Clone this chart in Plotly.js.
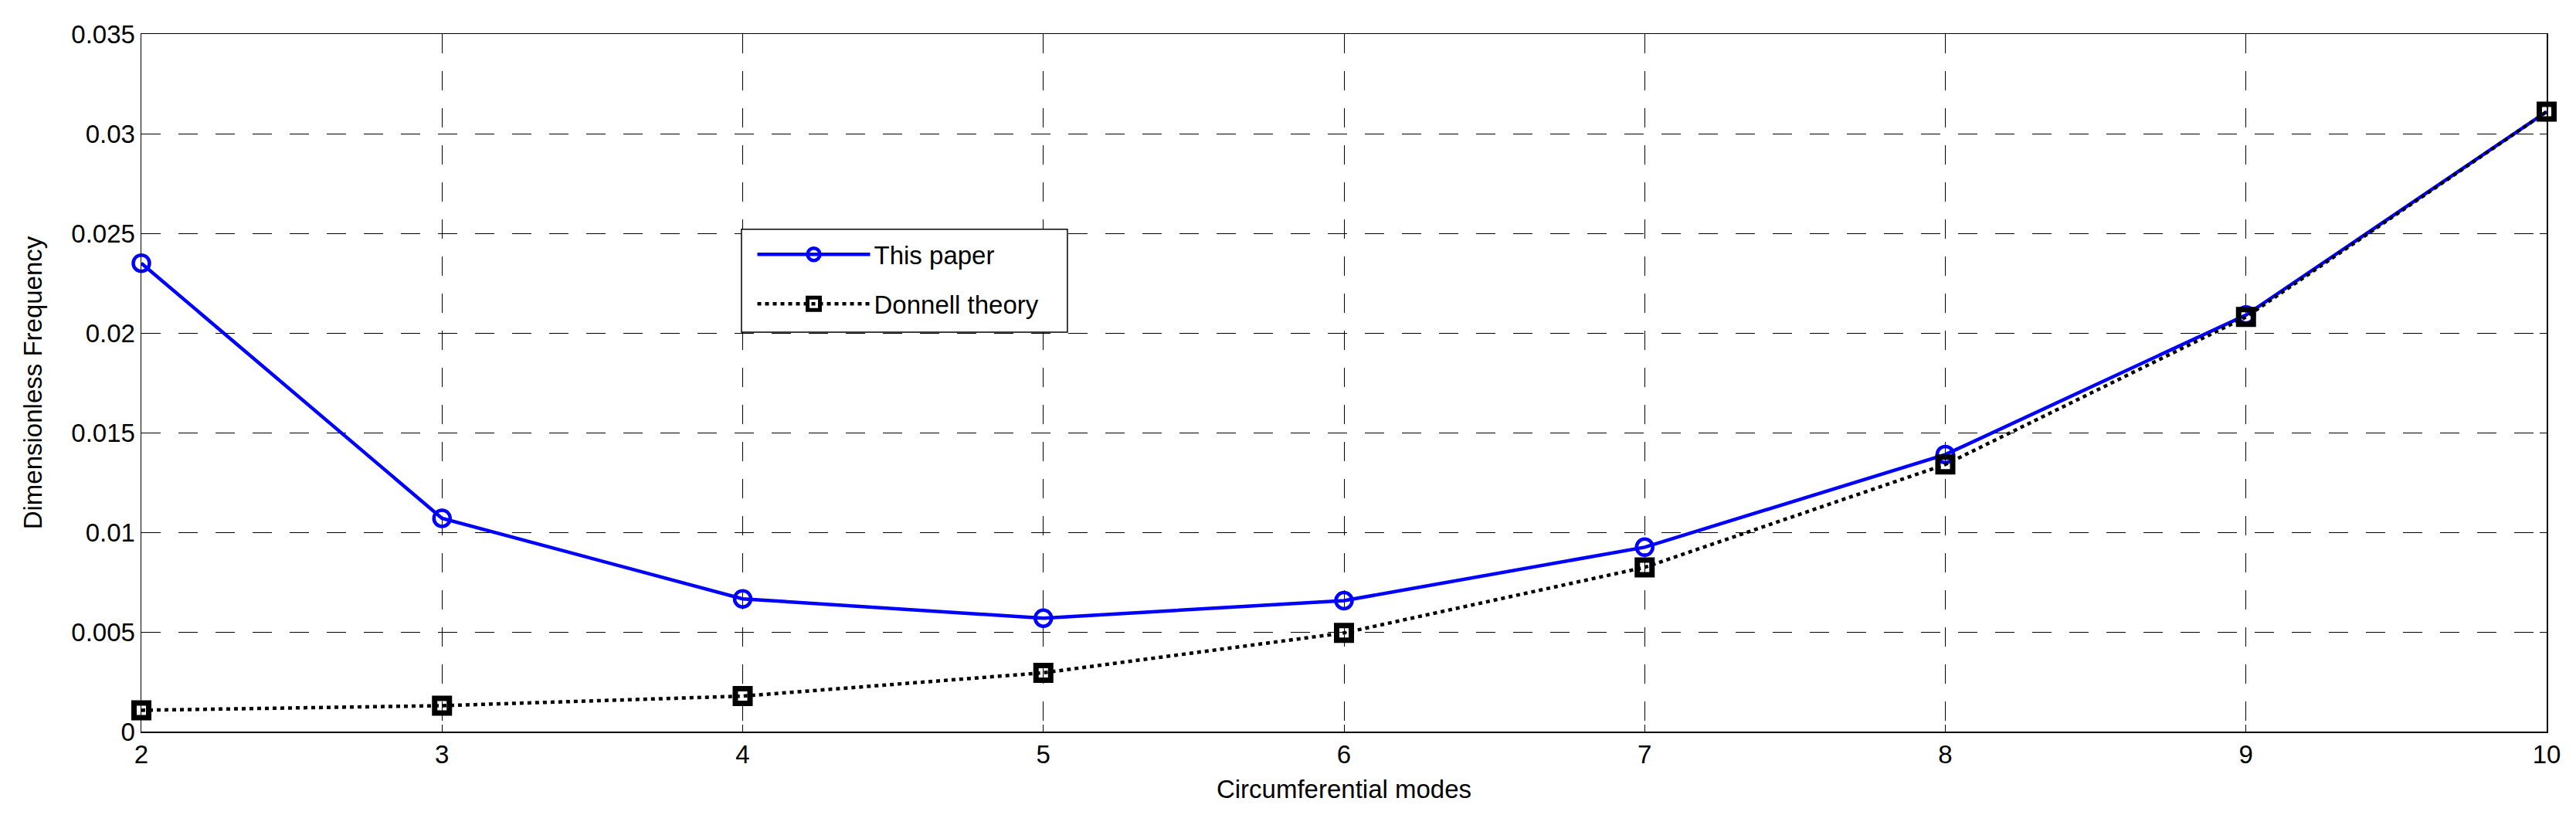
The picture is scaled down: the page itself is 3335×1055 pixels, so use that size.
<!DOCTYPE html>
<html>
<head>
<meta charset="utf-8">
<script src="https://cdn.plot.ly/plotly-3.0.1.min.js"></script>
<style>html,body{margin:0;padding:0;background:#fff;}#chart{width:3335px;height:1055px;}</style>
</head>
<body>
<div id="chart"></div>
<script>
// Data
const modes = [2, 3, 4, 5, 6, 7, 8, 9, 10];
const thisPaper = [0.0235, 0.0107, 0.00666, 0.00569, 0.00657, 0.00925, 0.0139, 0.0209, 0.0311];
const donnell = [0.00107, 0.0013, 0.00178, 0.00295, 0.00495, 0.00824, 0.0134, 0.0208, 0.0311];
const yTickVals = [0, 0.005, 0.01, 0.015, 0.02, 0.025, 0.03, 0.035];
const yTickText = ['0', '0.005', '0.01', '0.015', '0.02', '0.025', '0.03', '0.035'];
const xTickVals = [2, 3, 4, 5, 6, 7, 8, 9, 10];
const seriesNames = ['This paper', 'Donnell theory'];

const FONT = 'Arial, "Liberation Sans", sans-serif';

const traces = [
  {
    x: modes, y: thisPaper, name: seriesNames[0], legendgroup: 'a',
    type: 'scatter', mode: 'lines+markers', cliponaxis: false,
    line: {color: '#0000ff', width: 4.5},
    marker: {symbol: 'circle-open', size: 21, color: '#0000ff', line: {color: '#0000ff', width: 4.5}}
  },
  {
    x: modes, y: donnell, name: seriesNames[1], legendgroup: 'b',
    type: 'scatter', mode: 'lines+markers', cliponaxis: false,
    line: {color: '#000000', width: 4.5, dash: '5px,5px'},
    marker: {symbol: 'square-open', size: 19, color: '#000000', line: {color: '#000000', width: 7}}
  }
];

const axisCommon = {
  showline: true, linecolor: '#000', linewidth: 1.5, mirror: 'ticks',
  ticks: 'inside', ticklen: 9, tickcolor: '#000', tickwidth: 1,
  showgrid: true, gridcolor: '#000', gridwidth: 1, griddash: '25px,23px',
  zeroline: false,
  tickfont: {family: FONT, size: 33, color: '#000'}
};

const layout = {
  width: 3335, height: 1055,
  paper_bgcolor: '#fff', plot_bgcolor: '#fff',
  margin: {l: 183, r: 38, t: 44, b: 108},
  font: {family: FONT, size: 33, color: '#000'},
  xaxis: Object.assign({}, axisCommon, {
    range: [2, 10], tickmode: 'array', tickvals: xTickVals,
    title: {text: 'Circumferential modes', font: {family: FONT, size: 33, color: '#000'}, standoff: 16}
  }),
  yaxis: Object.assign({}, axisCommon, {
    range: [0, 0.035], tickmode: 'array', tickvals: yTickVals, ticktext: yTickText,
    title: {text: 'Dimensionless Frequency', font: {family: FONT, size: 33, color: '#000'}, standoff: 28}
  }),
  showlegend: true,
  legend: {
    x: 0.2545, y: 0.715, xanchor: 'left', yanchor: 'top',
    bgcolor: 'rgba(0,0,0,0)', borderwidth: 0,
    font: {family: FONT, size: 33, color: '#000'},
    itemwidth: 146, tracegroupgap: 18, traceorder: 'grouped'
  },
  shapes: [
    {type: 'rect', xref: 'paper', yref: 'paper', x0: 0.2495, x1: 0.385, y0: 0.5726, y1: 0.72,
     fillcolor: '#fff', line: {color: '#000', width: 1.5}, layer: 'above'}
  ]
};

Plotly.newPlot('chart', traces, layout, {staticPlot: true, displayModeBar: false});
</script>
</body>
</html>
